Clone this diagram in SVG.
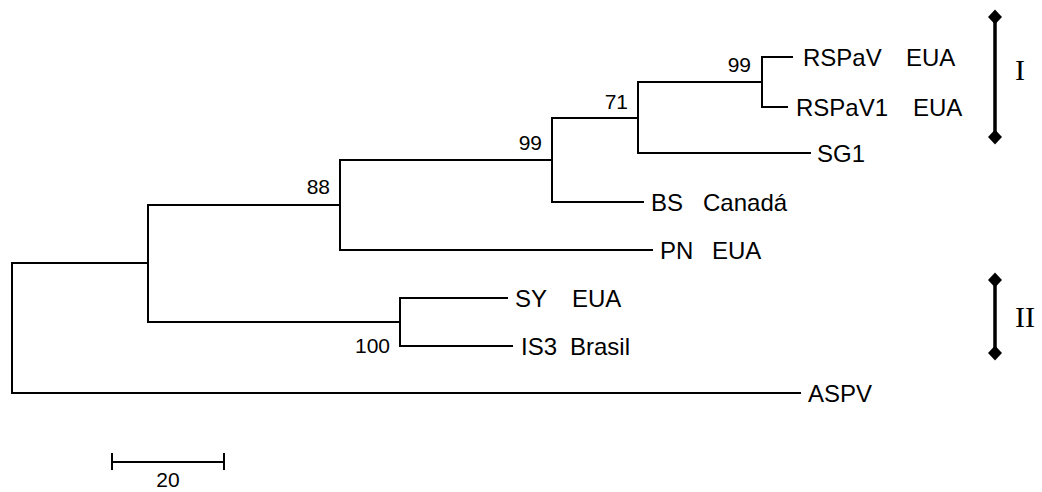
<svg xmlns="http://www.w3.org/2000/svg" width="1042" height="492" viewBox="0 0 1042 492">
<style>
.br{fill:none;stroke:#000;stroke-width:2;stroke-linecap:square}
.lab{font-family:"Liberation Sans",Arial,sans-serif;font-size:24px;fill:#000}
.bs{font-family:"Liberation Sans",Arial,sans-serif;font-size:21px;fill:#000;text-anchor:end}
.rom{font-family:"Liberation Serif","Times New Roman",serif;font-size:30px;fill:#000}
.grp{fill:none;stroke:#000;stroke-width:3.5;marker-start:url(#dia);marker-end:url(#dia)}
</style>
<defs>
<marker id="dia" viewBox="-8 -8 16 16" markerWidth="16" markerHeight="16" markerUnits="userSpaceOnUse" refX="0" refY="0" orient="0">
<path d="M0,-7.5 L7,0 L0,7.5 L-7,0 Z" fill="#000"/>
</marker>
</defs>
<g id="connectors">
<path class="br" d="M12,263 V393 M12,263 H148 M148,205 V322 M148,205 H340 M340,160 V250 M340,250 H652 M340,160 H552 M552,118 V202 M552,202 H643 M552,118 H638 M638,82 V153 M638,153 H810 M638,82 H762 M762,57 V107 M762,57 H792 M762,107 H787 M148,322 H400 M400,298 V346 M400,298 H507 M400,346 H512 M12,393 H800"/>
</g>
<g id="bootstrap">
<text class="bs" x="751" y="72">99</text>
<text class="bs" x="628" y="109">71</text>
<text class="bs" x="542" y="150">99</text>
<text class="bs" x="330" y="194">88</text>
<text class="bs" x="390" y="353">100</text>
</g>
<g id="leaf-RSPaV-EUA"><text class="lab" x="803" y="66">RSPaV<tspan x="906">EUA</tspan></text></g>
<g id="leaf-RSPaV1-EUA"><text class="lab" x="796" y="116">RSPaV1<tspan x="913">EUA</tspan></text></g>
<g id="leaf-SG1"><text class="lab" x="817" y="162">SG1</text></g>
<g id="leaf-BS-Canada"><text class="lab" x="651" y="211">BS<tspan x="703">Canadá</tspan></text></g>
<g id="leaf-PN-EUA"><text class="lab" x="660" y="259">PN<tspan x="712">EUA</tspan></text></g>
<g id="leaf-SY-EUA"><text class="lab" x="515" y="307">SY<tspan x="572">EUA</tspan></text></g>
<g id="leaf-IS3-Brasil"><text class="lab" x="521" y="355">IS3<tspan x="570">Brasil</tspan></text></g>
<g id="leaf-ASPV"><text class="lab" x="808" y="402">ASPV</text></g>
<g id="group-I">
<path class="grp" d="M995,17 V137"/>
<text class="rom" x="1015" y="80">I</text>
</g>
<g id="group-II">
<path class="grp" d="M995,280 V353"/>
<text class="rom" x="1015" y="327">II</text>
</g>
<g id="scale-bar">
<path class="br" d="M112,462 H224 M112,453 V470 M224,453 V470" style="stroke-linecap:butt"/>
<text class="bs" x="168" y="487" style="text-anchor:middle">20</text>
</g>
</svg>
